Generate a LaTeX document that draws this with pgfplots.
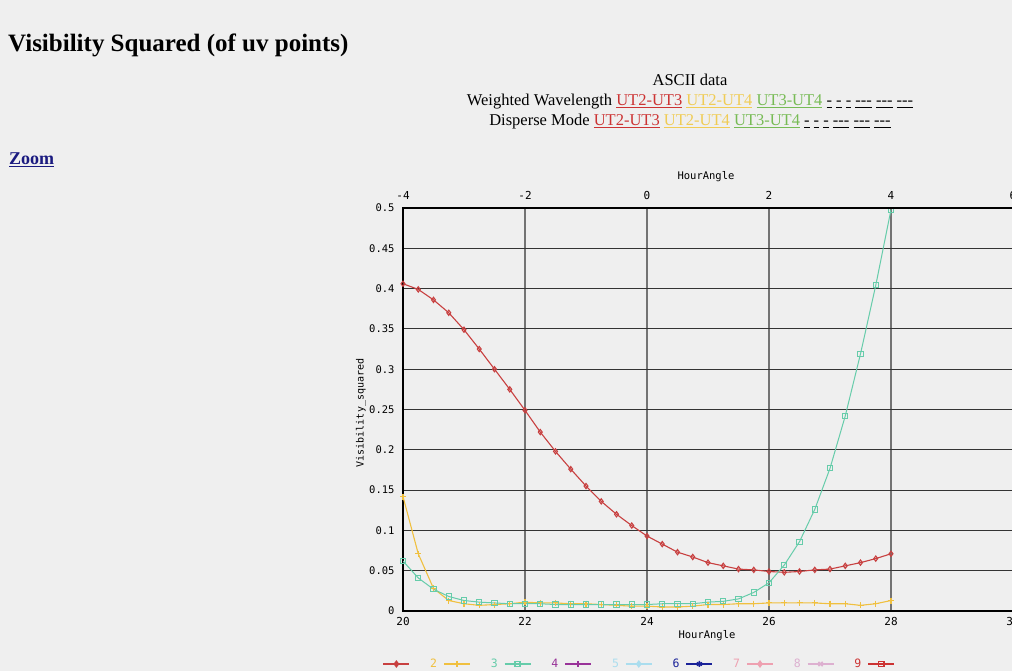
\documentclass[border=0pt]{standalone}
\usepackage{pgfplots}
\pgfplotsset{compat=1.18}
\usepackage{fontspec}
\setmainfont{Liberation Serif}
\newfontfamily\pixfont{DejaVu Sans Mono}

\definecolor{pagebg}{HTML}{EFEFEF}
\definecolor{c1}{HTML}{C84040}
\definecolor{c2}{HTML}{F0C040}
\definecolor{c3}{HTML}{66CCAA}
\definecolor{c4}{HTML}{993399}
\definecolor{c5}{HTML}{AADDEE}
\definecolor{c6}{HTML}{1A2299}
\definecolor{c7}{HTML}{EEA0B0}
\definecolor{c8}{HTML}{DDB0D0}
\definecolor{c9}{HTML}{CC3333}
\definecolor{lnkred}{HTML}{CC3333}
\definecolor{lnkyel}{HTML}{F0CC55}
\definecolor{lnkgrn}{HTML}{77BB55}
\definecolor{lnkblue}{HTML}{1A1A80}

% uv point visibilities, hour 20..28 every 0.25
\pgfplotstableread{
x     a      b      c
20.00 0.406  0.142  0.062
20.25 0.399  0.071  0.041
20.50 0.386  0.028  0.027
20.75 0.370  0.013  0.018
21.00 0.349  0.009  0.013
21.25 0.325  0.007  0.011
21.50 0.300  0.008  0.010
21.75 0.275  0.009  0.009
22.00 0.249  0.011  0.009
22.25 0.222  0.010  0.009
22.50 0.198  0.010  0.008
22.75 0.176  0.009  0.008
23.00 0.155  0.009  0.008
23.25 0.136  0.008  0.008
23.50 0.120  0.007  0.008
23.75 0.106  0.006  0.008
24.00 0.093  0.006  0.008
24.25 0.083  0.005  0.009
24.50 0.073  0.005  0.009
24.75 0.067  0.006  0.009
25.00 0.060  0.008  0.011
25.25 0.056  0.008  0.012
25.50 0.052  0.009  0.015
25.75 0.051  0.009  0.023
26.00 0.049  0.010  0.035
26.25 0.048  0.010  0.057
26.50 0.049  0.010  0.086
26.75 0.051  0.010  0.126
27.00 0.052  0.009  0.177
27.25 0.056  0.009  0.242
27.50 0.060  0.007  0.319
27.75 0.065  0.009  0.404
28.00 0.071  0.013  0.498
}\vis

\newcommand{\lnk}[2]{\textcolor{#1}{\underline{#2}}}
\newcommand{\dashes}{\underline{-} \underline{-} \underline{-} \underline{{-}{-}{-}} \underline{{-}{-}{-}} \underline{{-}{-}{-}}}

\begin{document}
\begin{tikzpicture}[x=1pt,y=1pt]
\path[use as bounding box] (0,0) rectangle (1012,671);
\clip (0,0) rectangle (1012,671);
\fill[pagebg] (0,0) rectangle (1012,671);

% page text
\node[anchor=base west, inner sep=0] at (8,619)
  {\fontsize{25}{29}\selectfont\bfseries Visibility Squared (of uv points)};
\node[anchor=base, inner sep=0] at (690,585)
  {\fontsize{16.5}{19}\selectfont ASCII data};
\node[anchor=base, inner sep=0] at (690,565)
  {\fontsize{16.5}{19}\selectfont Weighted Wavelength \lnk{lnkred}{UT2-UT3} \lnk{lnkyel}{UT2-UT4} \lnk{lnkgrn}{UT3-UT4} \dashes};
\node[anchor=base, inner sep=0] at (690,545)
  {\fontsize{16.5}{19}\selectfont Disperse Mode \lnk{lnkred}{UT2-UT3} \lnk{lnkyel}{UT2-UT4} \lnk{lnkgrn}{UT3-UT4} \dashes};
\node[anchor=base west, inner sep=0] at (9,506)
  {\fontsize{18}{21}\selectfont\bfseries\lnk{lnkblue}{Zoom}};

% axis labels
\node[rotate=90, inner sep=0] at (361,258) {\pixfont\fontsize{10}{12}\selectfont Visibility\_squared};
\node[inner sep=0] at (706,494) {\pixfont\fontsize{10.5}{12}\selectfont HourAngle};
\node[inner sep=0] at (707,35) {\pixfont\fontsize{10.5}{12}\selectfont HourAngle};

\begin{axis}[
  at={(403pt,60pt)}, anchor=south west,
  scale only axis, width=610pt, height=403pt,
  xmin=20, xmax=30, ymin=0, ymax=0.5,
  xtick={20,22,24,26,28,30},
  xticklabels={20,22,24,26,28,30},
  ytick={0,0.05,0.1,0.15,0.2,0.25,0.3,0.35,0.4,0.45,0.5},
  yticklabels={0,0.05,0.1,0.15,0.2,0.25,0.3,0.35,0.4,0.45,0.5},
  ticklabel style={font=\pixfont\fontsize{11}{13}\selectfont},
  yticklabel style={xshift=-5pt, font=\pixfont\fontsize{10.5}{13}\selectfont},
  xticklabel style={yshift=-3pt},
  major tick length=0pt,
  grid=major,
  x grid style={color=black!55, line width=1.2pt},
  y grid style={color=black!80, line width=1pt},
  axis line style={black, line width=1.4pt},
  legend columns=9,
  legend plot pos=right,
  legend style={draw=none, fill=none, at={(-0.06,-0.1315)}, anchor=west,
    nodes={inner sep=0pt, text width=7pt, align=center,
      font=\pixfont\fontsize{11.5}{13}\selectfont},
    /tikz/every odd column/.style={column sep=6pt},
    /tikz/every even column/.style={column sep=20pt}},
  legend image code/.code={\draw[mark repeat=2, mark phase=2, line width=1.6pt, #1]
    plot coordinates {(0pt,0pt) (13pt,0pt) (26pt,0pt)};},
]
\addplot[c1, line width=1.1pt, mark=diamond, mark size=2.6pt] table[x=x, y=a] {\vis};
\addlegendentry{}
\addplot[c2, line width=1.1pt, mark=+, mark size=3pt] table[x=x, y=b] {\vis};
\addlegendentry{\textcolor{c2}{2}}
\addplot[c3, line width=1pt, mark=square, mark size=2.6pt] table[x=x, y=c] {\vis};
\addlegendentry{\textcolor{c3}{3}}
\addlegendimage{c4, mark=+, mark size=3pt}
\addlegendentry{\textcolor{c4}{4}}
\addlegendimage{c5, mark=diamond, mark size=2.6pt}
\addlegendentry{\textcolor{c5}{5}}
\addlegendimage{c6, mark=asterisk, mark size=3pt}
\addlegendentry{\textcolor{c6}{6}}
\addlegendimage{c7, mark=diamond, mark size=2.6pt}
\addlegendentry{\textcolor{c7}{7}}
\addlegendimage{c8, mark=x, mark size=3pt}
\addlegendentry{\textcolor{c8}{8}}
\addlegendimage{c9, mark=square, mark size=2.6pt}
\addlegendentry{\textcolor{c9}{9}}
\end{axis}

\begin{axis}[
  at={(403pt,60pt)}, anchor=south west,
  scale only axis, width=610pt, height=403pt,
  xmin=-4, xmax=6, ymin=0, ymax=0.5,
  axis x line*=top, hide y axis,
  axis line style={black, line width=1.4pt},
  xtick={-4,-2,0,2,4,6},
  xticklabels={-4,-2,0,2,4,6},
  ticklabel style={font=\pixfont\fontsize{11}{13}\selectfont},
  xticklabel style={yshift=5pt},
  major tick length=0pt,
]
\end{axis}
\end{tikzpicture}
\end{document}
